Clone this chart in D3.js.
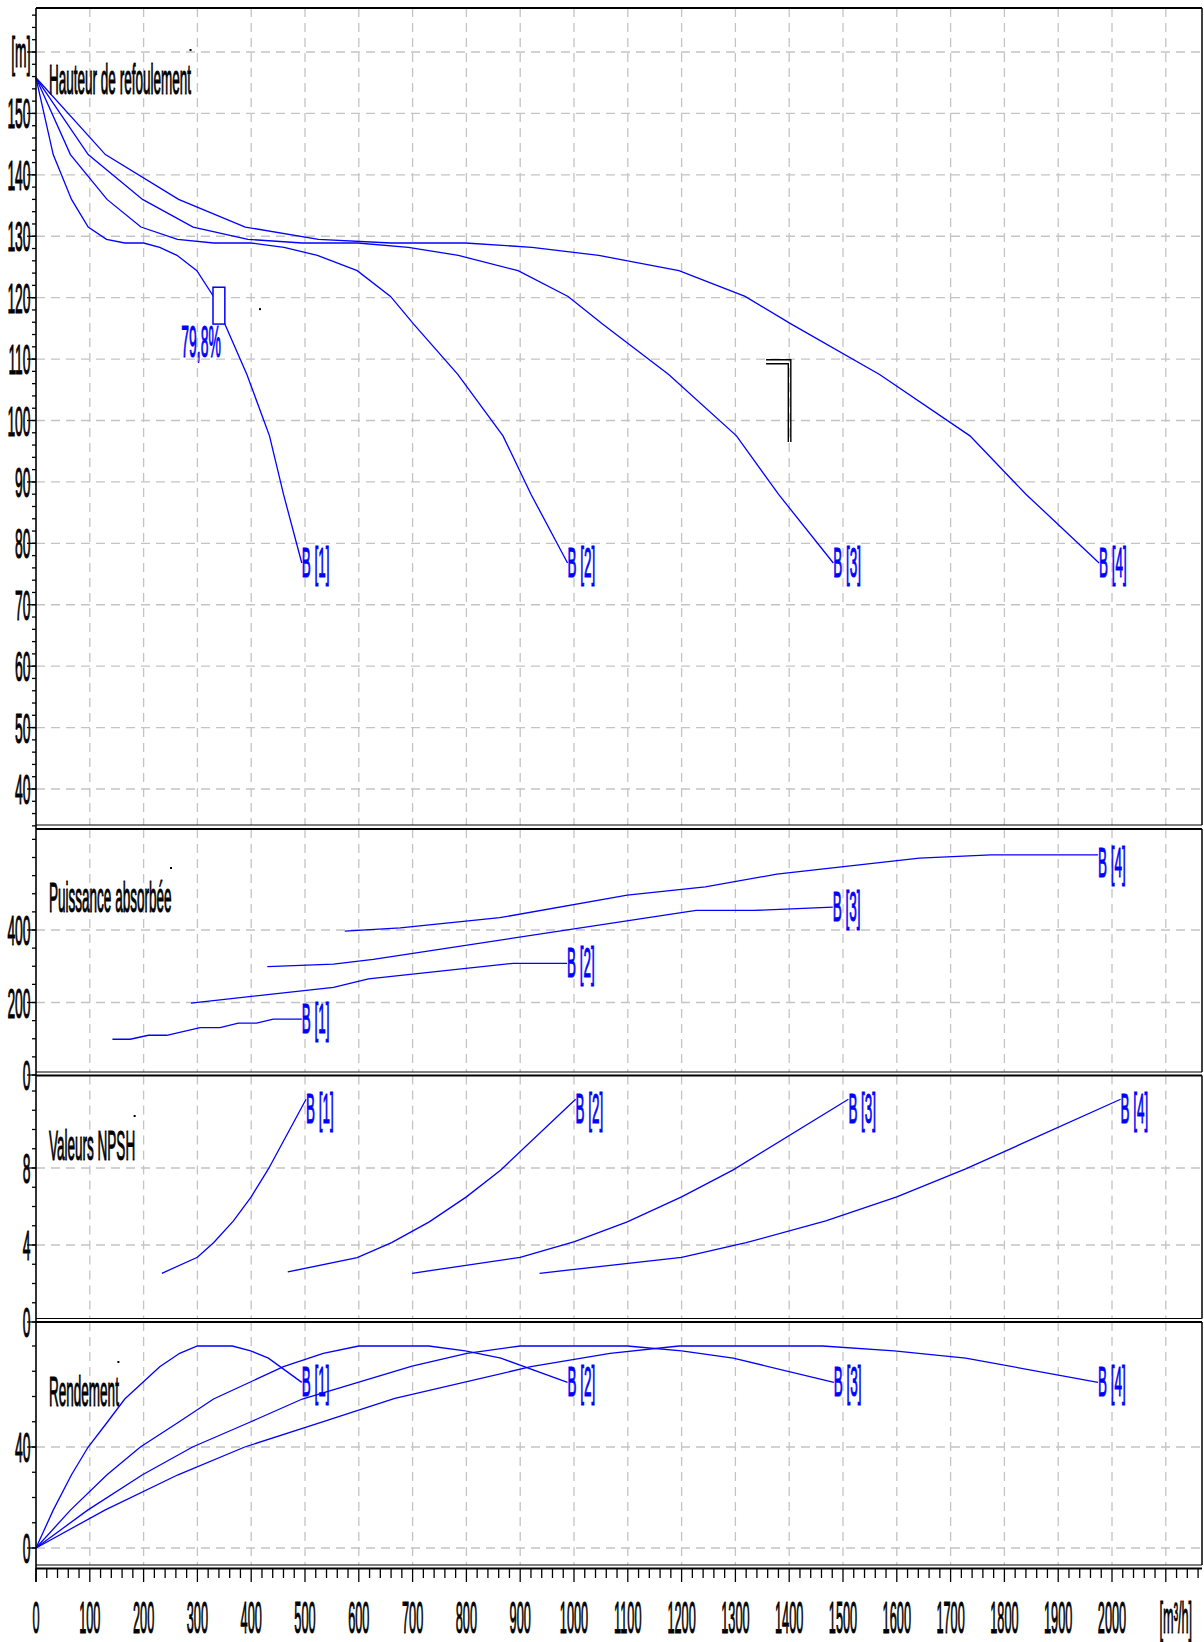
<!DOCTYPE html>
<html>
<head>
<meta charset="utf-8">
<script src="https://cdn.jsdelivr.net/npm/d3@7/dist/d3.min.js"></script>
<style>
  body { margin: 0; background: #fff; }
  text { font-family: "Liberation Sans", Arial, sans-serif; }
</style>
</head>
<body>
<svg id="chart" width="1204" height="1642"></svg>
<script>
// pump curves, [Q m3/h, value]
const pumps = ["B [1]", "B [2]", "B [3]", "B [4]"];

const head = [
  [[0,155.8],[32,143.3],[66,136.0],[97,131.5],[131,129.5],[165,128.9],[200,128.9],[230,128.2],[262,126.9],[299,124.4],[330,120.2],[351,115.7],[392,107.5],[434,97.5],[460,88],[494,76.8]],
  [[0,155.8],[64,143.3],[132,136.0],[195,131.5],[263,129.5],[330,128.9],[399,128.9],[461,128.2],[523,126.9],[597,124.4],[659,120.2],[702,115.7],[784,107.5],[868,97.5],[920,88],[988,76.8]],
  [[0,155.8],[97,143.3],[198,136.0],[292,131.5],[394,129.5],[495,128.9],[598,128.9],[692,128.2],[785,126.9],[896,124.4],[989,120.2],[1053,115.7],[1176,107.5],[1302,97.5],[1380,88],[1482,76.8]],
  [[0,155.8],[129,143.3],[265,136.0],[389,131.5],[525,129.5],[660,128.9],[798,128.9],[922,128.2],[1046,126.9],[1195,124.4],[1318,120.2],[1404,115.7],[1568,107.5],[1736,97.5],[1840,88],[1976,76.8]]
];

const power = [
  [[142,98.6],[175,98.6],[209,109.6],[243,109.6],[305,130.6],[342,130.6],[376,143],[410,143],[441,154],[494,154]],
  [[288,198],[553,242],[618,265],[887,308],[987,308]],
  [[430,299],[553,306],[627,319],[1227,454],[1335,454],[1481,463]],
  [[574,397],[677,406],[862,434],[1099,496],[1244,519],[1377,554],[1642,598],[1775,607],[1974,607]]
];

const npsh = [
  [[234,2.53],[300,3.36],[330,4.12],[367,5.25],[400,6.5],[432,7.95],[502,11.57]],
  [[468,2.6],[597,3.34],[661,4.12],[731,5.2],[800,6.5],[864,7.9],[1003,11.57]],
  [[699,2.53],[900,3.36],[1001,4.17],[1099,5.2],[1200,6.5],[1296,7.9],[1510,11.57]],
  [[936,2.53],[1200,3.36],[1320,4.12],[1468,5.25],[1600,6.5],[1728,7.95],[2016,11.57]]
];

const efficiency = [
  [[0,0],[32,15],[66,29],[97,40],[131,49.4],[165,59],[230,71.8],[267,77.1],[300,80],[365,80],[399,78.1],[432,75.2],[494,65.6]],
  [[0,0],[64,15],[132,29],[194,40],[262,49.4],[330,59],[460,71.8],[534,77.1],[600,80],[730,80],[798,78.1],[864,75.2],[988,65.6]],
  [[0,0],[96,15],[198,29],[291,40],[393,49.4],[495,59],[699,72],[801,77.1],[900,80],[1099,80],[1200,78.1],[1296,75.2],[1483,65.6]],
  [[0,0],[128,15],[264,29],[388,40],[524,49.4],[667,59.3],[920,71.8],[1067,77.1],[1195,80],[1462,80],[1595,78.1],[1728,75.2],[1974,65.6]]
];

// operating point box on B [1] and its efficiency label
const opQ = [329, 351];
const opH = [115.7, 121.7];
const opLabel = "79,8%";
// black bracket mark in the head panel
const markQ = [1357, 1403];
const markH = [96.5, 109.9];
const strayDot = [414.5, 118.3];

const headTicks = [40, 50, 60, 70, 80, 90, 100, 110, 120, 130, 140, 150, 160];
const headTickLabels = ["40","50","60","70","80","90","100","110","120","130","140","150","[m]"];
const powerTicks = [0, 200, 400];
const npshTicks = [0, 4, 8];
const effTicks = [0, 40];
const qTicks = d3.range(0, 2001, 100);
const qUnit = "[m³/h]";

const svg = d3.select("#chart");
const blue = "#0000ff";
const gridColor = "#c4c4c4";
const left = 36, right = 1202;

const x = d3.scaleLinear().domain([0, 2100]).range([left, 1165.8]);

const panels = [
  { title: "Hauteur de refoulement", titleY: 94, top: 8, bottom: 825,
    y: d3.scaleLinear().domain([40, 160]).range([789, 52]),
    ticks: headTicks, labels: headTickLabels, minor: 2, data: head },
  { title: "Puissance absorbée", titleY: 912, top: 829, bottom: 1072,
    y: d3.scaleLinear().domain([0, 400]).range([1075, 930]),
    ticks: powerTicks, labels: powerTicks.map(String), minor: 50, data: power },
  { title: "Valeurs NPSH", titleY: 1160, top: 1075.5, bottom: 1318.5,
    y: d3.scaleLinear().domain([0, 8]).range([1322, 1168]),
    ticks: npshTicks, labels: npshTicks.map(String), minor: 1, data: npsh },
  { title: "Rendement", titleY: 1406, top: 1322, bottom: 1565,
    y: d3.scaleLinear().domain([0, 40]).range([1548, 1447]),
    ticks: effTicks, labels: effTicks.map(String), minor: 10, data: efficiency }
];

// the sheet uses a very condensed, fairly heavy face: squeeze and thicken the glyphs
function narrow(g, txt, px, py, size, sx, anchor, color) {
  const c = color || "#000";
  return g.append("text")
    .attr("transform", "translate(" + px + "," + py + ") scale(" + sx + ",1)")
    .attr("font-size", size)
    .attr("text-anchor", anchor || "start")
    .attr("fill", c)
    .attr("stroke", c)
    .attr("stroke-width", 1.1)
    .text(txt);
}

const gridG = svg.append("g");
const curveG = svg.append("g");
const frameG = svg.append("g");
const textG = svg.append("g");

// vertical grid over all panels
panels.forEach(p => {
  gridG.selectAll(null)
    .data(d3.range(100, 2101, 100))
    .enter().append("line")
    .attr("x1", d => x(d)).attr("x2", d => x(d))
    .attr("y1", p.top).attr("y2", p.bottom)
    .attr("stroke", gridColor).attr("stroke-width", 1.3)
    .attr("stroke-dasharray", "9,6");
});

panels.forEach(p => {
  // horizontal grid at the labelled ticks inside the panel
  gridG.selectAll(null)
    .data(p.ticks.filter(t => p.y(t) > p.top + 2 && p.y(t) < p.bottom - 2))
    .enter().append("line")
    .attr("x1", left).attr("x2", right)
    .attr("y1", d => p.y(d)).attr("y2", d => p.y(d))
    .attr("stroke", gridColor).attr("stroke-width", 1.3)
    .attr("stroke-dasharray", "9,6");

  // minor ticks
  const lo = p.y.invert(p.bottom + 4), hi = p.y.invert(p.top);
  const minors = d3.range(Math.ceil(lo / p.minor) * p.minor, hi, p.minor);
  frameG.selectAll(null)
    .data(minors)
    .enter().append("line")
    .attr("x1", left - 4).attr("x2", left)
    .attr("y1", d => p.y(d)).attr("y2", d => p.y(d))
    .attr("stroke", "#000").attr("stroke-width", 1.3);

  frameG.selectAll(null)
    .data(p.ticks)
    .enter().append("line")
    .attr("x1", left - 9).attr("x2", left)
    .attr("y1", d => p.y(d)).attr("y2", d => p.y(d))
    .attr("stroke", "#000").attr("stroke-width", 1.3);

  p.ticks.forEach((t, i) => {
    narrow(textG, p.labels[i], 30.5, p.y(t) + 15, 42, 0.33, "end");
  });

  // panel frame: heavy top, light bottom
  frameG.append("line").attr("x1", left).attr("x2", right)
    .attr("y1", p.top).attr("y2", p.top)
    .attr("stroke", "#000").attr("stroke-width", 2);
  frameG.append("line").attr("x1", left).attr("x2", right)
    .attr("y1", p.bottom).attr("y2", p.bottom)
    .attr("stroke", "#000").attr("stroke-width", 1.2);
  frameG.append("line").attr("x1", right).attr("x2", right)
    .attr("y1", p.top).attr("y2", p.bottom)
    .attr("stroke", "#000").attr("stroke-width", 1.5);

  // curves
  const line = d3.line().x(d => x(d[0])).y(d => p.y(d[1]));
  curveG.selectAll(null)
    .data(p.data)
    .enter().append("path")
    .attr("d", line)
    .attr("fill", "none")
    .attr("stroke", blue)
    .attr("stroke-width", 1.3);

  // curve end labels, kept clear of the panel top
  p.data.forEach((s, i) => {
    const end = s[s.length - 1];
    const ex = x(end[0]), ey = p.y(end[1]);
    const topY = Math.max(ey - 16, p.top + 17.5);
    narrow(textG, pumps[i], ex, topY + 30, 42, 0.32, "start", blue);
  });

  // title and the small dot that sits after it
  const t = narrow(textG, p.title, 49, p.titleY, 42, 0.322);
  const w = t.node().getComputedTextLength() * 0.322;
  textG.append("rect").attr("x", 49 + w - 1.5).attr("y", p.titleY - 45)
    .attr("width", 2).attr("height", 2).attr("fill", "#000");
});

// left axis line and x axis
frameG.append("line").attr("x1", left).attr("x2", left)
  .attr("y1", 8).attr("y2", 1582)
  .attr("stroke", "#000").attr("stroke-width", 1.6);
frameG.append("line").attr("x1", left).attr("x2", right)
  .attr("y1", 1568.5).attr("y2", 1568.5)
  .attr("stroke", "#000").attr("stroke-width", 2);

frameG.selectAll(null)
  .data(d3.range(0, 2161, 20))
  .enter().append("line")
  .attr("x1", d => x(d)).attr("x2", d => x(d))
  .attr("y1", 1568).attr("y2", d => d % 100 === 0 ? 1582 : 1578)
  .attr("stroke", "#000").attr("stroke-width", 1.3);

qTicks.forEach(q => narrow(textG, String(q), x(q), 1633, 44, 0.29, "middle"));
narrow(textG, qUnit, x(2100) + 10, 1633, 44, 0.29, "middle");

// operating point marker on the head curve
const hp = panels[0];
frameG.append("rect")
  .attr("x", x(opQ[0])).attr("y", hp.y(opH[1]))
  .attr("width", x(opQ[1]) - x(opQ[0]))
  .attr("height", hp.y(opH[0]) - hp.y(opH[1]))
  .attr("fill", "#fff").attr("stroke", blue).attr("stroke-width", 1.5);
narrow(textG, opLabel, x(opQ[1]) - 4, hp.y(opH[0]) + 33, 45, 0.31, "end", blue);
textG.append("rect").attr("x", x(strayDot[0])).attr("y", hp.y(strayDot[1]))
  .attr("width", 2).attr("height", 2).attr("fill", "#000");

// bracket mark
const mx0 = x(markQ[0]), mx1 = x(markQ[1]);
const my0 = hp.y(markH[1]), my1 = hp.y(markH[0]);
frameG.append("path")
  .attr("d", "M" + mx0 + "," + my0 + "H" + mx1 + "V" + my1)
  .attr("fill", "none").attr("stroke", "#000").attr("stroke-width", 1.4);
frameG.append("path")
  .attr("d", "M" + mx0 + "," + (my0 + 4) + "H" + (mx1 - 2.5) + "V" + my1)
  .attr("fill", "none").attr("stroke", "#000").attr("stroke-width", 1.4);
</script>
</body>
</html>
